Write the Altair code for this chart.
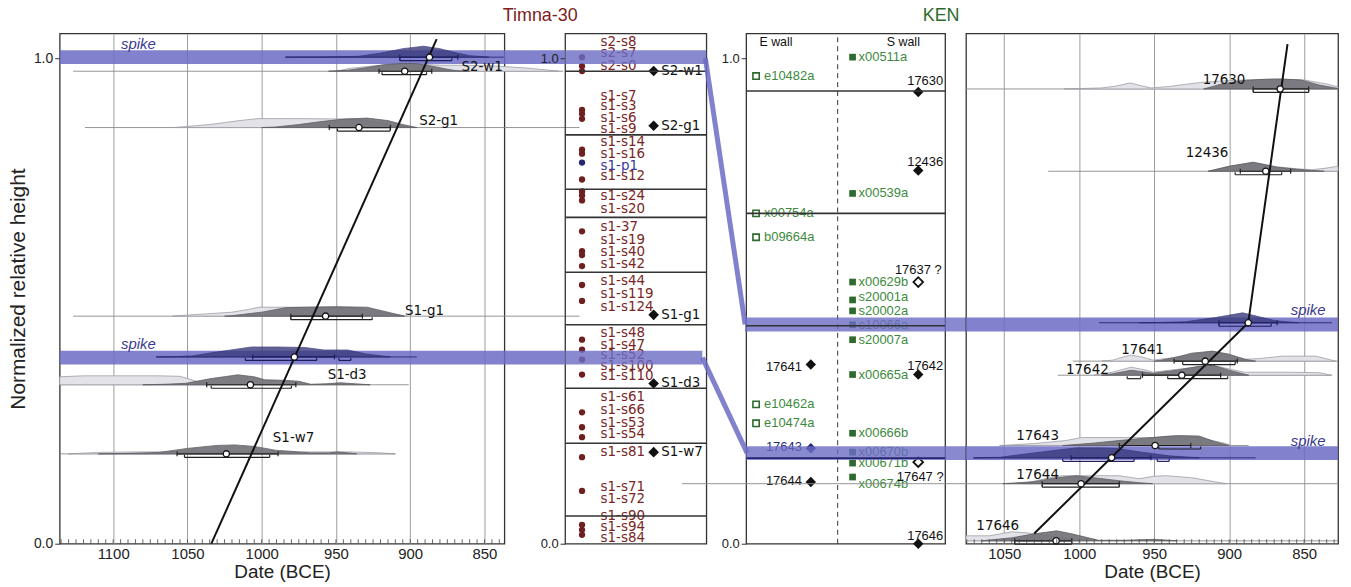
import altair as alt
import pandas as pd

# ---------------- layout / style constants ----------------
PX = 488.0            # pixels per unit of normalized height
H = 513
YMAX = 1.051
DUNIT = 10 / PX       # density unit (1.0 ~ 10 px tall)
OFF = 3.5 / PX
TK = 2.5 / PX
MINOR = 4.5 / PX

BAND = "#6b6bc4"
NAVY = "#262670"
LIGHT_FILL = "#e2e2e8"
DARK_FILL = "#727278"
SPIKE_FILL = "#3a3a7c"
BROWN = "#7a2626"
GREEN = "#3d8a3d"
DKGREEN = "#2d6a2d"

# ================= Timna-30 dates (panel 1) =================
T_DOMAIN = [836.6, 1136]
T_GRID = [1100, 1050, 1000, 950, 900, 850]
T_MINOR = list(range(840, 1136, 5))

T_ROWS = ["spike1", "S2-w1", "S2-g1", "S1-g1", "spike2", "S1-d3", "S1-w7"]
T_ROW_Y = [1.002, 0.973, 0.857, 0.4686, 0.3846, 0.3273, 0.185]
T_KIND = ["spike", "gray", "gray", "gray", "spike", "gray", "gray"]
T_BASE_FROM = [984, 1127, 1119, 1127, 1071, 1136, 1136]
T_BASE_TO = [837, 797, 786, 786, 895.5, 901, 910]
T_MEDIAN = [887, 903.7, 934.5, 957, 978, 1007.6, 1023.8]
T_A_FROM = [907, 921, 954.5, 980.4, 1006, 1037, 1057]
T_A_TO = [868, 885.5, 913.3, 932.2, 951, 977, 989]
T_B_FROM = [907, 919, 949, 980.4, 1011, 1034, 1052]
T_B_TO = [872, 889, 913.5, 925.6, 963, 980, 994.6]
T_C_ROW = [4]
T_C_FROM = [948]
T_C_TO = [940]

T_SPIKE1_DARK_X = [984, 960, 935, 920, 905, 891, 880, 868, 860, 847]
T_SPIKE1_DARK_H = [0, 0.02, 0.08, 0.4, 0.85, 1.1, 0.85, 0.4, 0.15, 0]
T_S2W1_LIGHT_X = [950, 940, 920, 904, 893, 880, 860, 840, 820, 800]
T_S2W1_LIGHT_H = [0, 0.3, 0.6, 0.75, 0.7, 0.6, 0.6, 0.5, 0.3, 0]
T_S2W1_DARK_X = [955, 942, 930, 918, 904, 895, 885, 875, 869, 860]
T_S2W1_DARK_H = [0, 0.1, 0.35, 0.65, 0.8, 0.75, 0.5, 0.2, 0.05, 0]
T_S2G1_LIGHT_X = [1060, 1051, 1035, 1015, 1002, 980, 960, 940, 925, 910, 900]
T_S2G1_LIGHT_H = [0, 0.1, 0.3, 0.7, 0.9, 0.9, 0.88, 0.85, 0.6, 0.2, 0]
T_S2G1_DARK_X = [1000, 991, 975, 960, 945, 929, 915, 905, 895.5]
T_S2G1_DARK_H = [0, 0.05, 0.3, 0.6, 0.85, 0.95, 0.7, 0.3, 0]
T_S1G1_LIGHT_X = [1060, 1051, 1035, 1020, 1008, 1002, 980, 960, 940, 920, 902]
T_S1G1_LIGHT_H = [0, 0.1, 0.25, 0.4, 0.7, 0.9, 0.9, 0.9, 0.88, 0.4, 0]
T_S1G1_DARK_X = [1025, 1020, 1000, 984, 970, 950, 929, 915, 904]
T_S1G1_DARK_H = [0, 0.05, 0.4, 0.85, 0.9, 0.95, 0.9, 0.4, 0]
T_SPIKE2_DARK_X = [1071, 1060, 1047, 1030, 1007, 990, 971, 958, 942, 930, 913.5]
T_SPIKE2_DARK_H = [0, 0.02, 0.1, 0.5, 1.0, 1.0, 0.95, 0.7, 0.7, 0.3, 0]
T_S1D3_LIGHT_X = [1136, 1120, 1100, 1070, 1055, 1045, 1036]
T_S1D3_LIGHT_H = [0.8, 0.9, 0.9, 0.9, 0.85, 0.4, 0]
T_S1D3_DARK_X = [1080, 1065, 1051, 1035, 1016, 1005, 998, 985, 975, 967, 957, 947, 937, 927]
T_S1D3_DARK_H = [0, 0.05, 0.15, 0.6, 1.0, 0.8, 0.5, 0.45, 0.35, 0.05, 0.1, 0.2, 0.1, 0]
T_S1W7_LIGHT_X = [1130, 1110, 1080, 1050, 1000, 960, 940, 920, 910]
T_S1W7_LIGHT_H = [0, 0.15, 0.2, 0.2, 0.2, 0.2, 0.2, 0.1, 0]
T_S1W7_DARK_X = [1110, 1090, 1069, 1050, 1030, 1018, 1005, 990, 984, 967, 955, 949, 942, 936]
T_S1W7_DARK_H = [0, 0.05, 0.15, 0.55, 0.85, 0.9, 0.75, 0.35, 0.3, 0.1, 0.1, 0.2, 0.1, 0]

T_FIT_X = [882.2, 1033.9]
T_FIT_Y = [1.039, 0.0]
T_LABELS = ["S2-w1", "S2-g1", "S1-g1", "S1-d3", "S1-w7"]
T_LABEL_X = [865.5, 894, 903.5, 955.6, 992.5]
T_LABEL_Y = [0.9816, 0.871, 0.4795, 0.348, 0.217]
T_SPIKE_LX = [1094.7, 1094.7]
T_SPIKE_LY = [1.029, 0.412]
T_BAND_Y = [1.002, 0.3832]
T_BAND_FROM = [1136, 1136]
T_BAND_TO = [796, 796]

# ================= Timna-30 samples (panel 2) =================
T_SAMPLES = ["s2-s8", "s2-s7", "s2-s0", "s1-s7", "s1-s3", "s1-s6", "s1-s9", "s1-s14", "s1-s16",
             "s1-p1", "s1-s12", "s1-s24", "s1-s20", "s1-37", "s1-s19", "s1-s40", "s1-s42", "s1-s44",
             "s1-s119", "s1-s124", "s1-s48", "s1-s47", "s1-s52", "s1-s100", "s1-s110", "s1-s61",
             "s1-s66", "s1-s53", "s1-s54", "s1-s81", "s1-s71", "s1-s72", "s1-s90", "s1-s94", "s1-s84"]
T_SAMPLE_Y = [1.0328, 1.0102, 0.9836, 0.9221, 0.9016, 0.8770, 0.8545, 0.8279, 0.8033,
              0.7787, 0.7582, 0.7152, 0.6885, 0.6516, 0.6250, 0.6004, 0.5758, 0.5410,
              0.5143, 0.4877, 0.4344, 0.4098, 0.3893, 0.3668, 0.3443, 0.3012,
              0.2746, 0.2480, 0.2254, 0.1885, 0.1168, 0.0922, 0.0574, 0.0348, 0.0123]
T_DOT_Y = [1.002, 0.9836, 0.9734, 0.8934, 0.8852, 0.875, 0.8115, 0.8033, 0.7848, 0.75,
           0.7254, 0.7172, 0.7070, 0.6434, 0.6025, 0.5943, 0.5717, 0.5328, 0.5, 0.4201,
           0.3996, 0.3791, 0.3484, 0.2705, 0.2398, 0.2193, 0.1783, 0.1086, 0.0389, 0.0287, 0.0184]
T_DOT_BLUE = [0.7848]
T_SECTIONS = [0.973, 0.842, 0.730, 0.672, 0.559, 0.451, 0.320, 0.207, 0.057]
T_PHASES = ["S2-w1", "S2-g1", "S1-g1", "S1-d3", "S1-w7"]
T_PHASE_Y = [0.9734, 0.8607, 0.4713, 0.3299, 0.1885]
T2_BAND_Y = [1.002, 0.3832]
T2_BAND_TO = [1.0, 0.972]

# ================= KEN samples (panel 3) =================
K_E_NAMES = ["e10482a", "x00754a", "b09664a", "e10462a", "e10474a"]
K_E_Y = [0.9631, 0.6803, 0.6311, 0.2869, 0.2480]
K_S_NAMES = ["x00511a", "x00539a", "x00629b", "s20001a", "s20002a", "c10066a", "s20007a",
             "x00665a", "x00666b", "x00670b", "x00671b", "x00674b"]
K_S_Y = [1.002, 0.7213, 0.5389, 0.502, 0.4795, 0.4508, 0.4201, 0.3484, 0.2275, 0.1885, 0.166, 0.1373]
K_S_LABEL_Y = [1.002, 0.7213, 0.5389, 0.508, 0.4795, 0.4508, 0.4201, 0.3484, 0.2275, 0.1885, 0.166, 0.123]
K_SD_NAMES = ["17630", "12436", "17637 ?", "17642", "17647 ?", "17646"]
K_SD_Y = [0.9303, 0.7684, 0.5389, 0.3484, 0.168, 0.0]
K_SD_OPEN = [False, False, True, False, True, False]
K_SD_LX = [0.9, 0.9, 0.865, 0.9, 0.875, 0.9]
K_SD_LY = [0.9529, 0.7869, 0.5635, 0.3668, 0.1373, 0.0164]
K_ED_NAMES = ["17641", "17643", "17644"]
K_ED_Y = [0.3689, 0.1967, 0.127]
K_ED_LY = [0.3648, 0.1988, 0.1291]
K_SECTIONS = [0.9324, 0.6803, 0.4488]
K_NAVY_LINE = [0.1762]
K3_BAND_Y = [0.4515, 0.1865]
K3_BAND_FROM = [-0.005, 0.0]
K3_BAND_TO = [1.105, 1.105]
CONN_X = [-0.205, -0.22]
CONN_Y = [1.0, 0.3832]
CONN_X2 = [-0.005, 0.005]
CONN_Y2 = [0.4515, 0.1865]

# ================= KEN dates (panel 4) =================
K_DOMAIN = [827.4, 1075.5]
K_GRID = [1050, 1000, 950, 900, 850]
K_MINOR = list(range(830, 1076, 5))
K_ROWS = ["17630", "12436", "spike3", "17641", "17642", "17643", "spike4", "17644", "17646"]
K_ROW_Y = [0.9365, 0.767, 0.455, 0.376, 0.347, 0.2022, 0.1768, 0.1236, 0.006]
K_KIND = ["gray", "gray", "spike", "gray", "gray", "gray", "spike", "gray", "gray"]
K_BASE_FROM = [1075.5, 1020.7, 986.8, 1004.3, 1014.3, 1053, 1070.8, 1265, 1075.5]
K_BASE_TO = [827.4, 827.4, 831.4, 827.4, 831.4, 887, 882.4, 827.4, 827.4]
K_MEDIAN = [866, 875.6, 887.3, 916, 931.6, 949.4, 978.4, 998.8, 1015.4]
K_A_FROM = [884, 892.6, 906.8, 936.7, 957.8, 973.3, 1005.4, 1024.7, 1043]
K_A_TO = [847, 859, 868, 894.6, 905.7, 925.6, 952.2, 973.3, 1005]
K_B_FROM = [884, 896, 906.8, 931, 941, 947, 1011, 1024.7, 1043]
K_B_TO = [847, 865, 872, 896, 901, 919, 963.4, 973.3, 1005]
K_C_ROW = [4, 6]
K_C_FROM = [968, 948]
K_C_TO = [959, 940]

K_17630_LIGHT_X = [1010, 985, 975, 966, 958, 952, 940, 930, 919, 905, 890, 870, 850, 835, 827.4]
K_17630_LIGHT_H = [0, 0.1, 0.3, 0.6, 0.3, 0.1, 0.25, 0.45, 0.65, 0.8, 0.9, 1.0, 0.9, 0.5, 0.2]
K_17630_DARK_X = [917, 905, 890, 879, 865, 852, 840, 827.4]
K_17630_DARK_H = [0, 0.5, 0.85, 0.95, 1.0, 0.9, 0.4, 0.05]
K_12436_LIGHT_X = [914, 900, 884, 868, 855, 845, 836, 830, 827.4]
K_12436_LIGHT_H = [0, 0.5, 0.9, 0.45, 0.25, 0.15, 0.3, 0.45, 0.5]
K_12436_DARK_X = [914, 900, 884, 868, 854.5, 845, 836.7]
K_12436_DARK_H = [0, 0.5, 0.9, 0.4, 0.2, 0.08, 0]
K_SPIKE3_DARK_X = [960, 945, 929, 910, 891, 880, 869, 860, 853.8]
K_SPIKE3_DARK_H = [0, 0.03, 0.1, 0.5, 1.0, 0.6, 0.2, 0.08, 0]
K_17641_LIGHT_X = [985, 977.7, 970, 965.5, 958, 951, 940, 911, 889, 880, 864.7, 842.5, 829]
K_17641_LIGHT_H = [0, 0.1, 0.45, 0.6, 0.4, 0.1, 0.3, 1.0, 0.2, 0.25, 0.5, 0.5, 0]
K_17641_DARK_X = [950, 946.9, 935, 925, 911.2, 900, 890, 882.4]
K_17641_DARK_H = [0, 0.05, 0.4, 0.8, 1.0, 0.7, 0.2, 0]
K_17642_LIGHT_X = [990, 978, 965.5, 955, 951, 940, 911, 890, 880, 860, 840, 832]
K_17642_LIGHT_H = [0, 0.3, 0.8, 0.5, 0.3, 0.5, 1.0, 0.3, 0.3, 0.3, 0.25, 0]
K_17642_DARK_X = [985, 977.7, 965.5, 955, 951, 935, 920, 911, 900, 887]
K_17642_DARK_H = [0, 0.15, 0.5, 0.3, 0.2, 0.5, 0.9, 1.0, 0.5, 0]
K_17643_LIGHT_X = [1053, 1030, 1009, 998, 975, 951, 935, 920, 905, 898]
K_17643_LIGHT_H = [0, 0.2, 0.5, 0.8, 0.8, 0.8, 0.9, 0.8, 0.3, 0]
K_17643_DARK_X = [1011, 990, 973.5, 955, 940, 933.6, 920, 910, 900]
K_17643_DARK_H = [0, 0.25, 0.5, 0.75, 0.95, 1.0, 0.95, 0.4, 0]
K_SPIKE4_DARK_X = [1070, 1053, 1030, 1002, 985, 975.5, 960, 940, 920]
K_SPIKE4_DARK_H = [0, 0.05, 0.5, 1.0, 1.0, 0.95, 0.6, 0.2, 0]
K_17644_LIGHT_X = [1037.6, 1020, 1011, 990, 973.5, 960, 950, 942, 925, 910, 902]
K_17644_LIGHT_H = [0, 0.6, 0.8, 0.8, 0.8, 0.5, 0.75, 0.8, 0.6, 0.2, 0]
K_17644_DARK_X = [1051, 1030, 1015, 1002, 990, 973.5, 960, 951]
K_17644_DARK_H = [0, 0.2, 0.6, 0.8, 0.6, 0.3, 0.1, 0]
K_17646_LIGHT_X = [1075.5, 1060, 1045, 1035, 1020, 1000]
K_17646_LIGHT_H = [0.5, 0.5, 0.9, 0.8, 0.5, 0]
K_17646_DARK_X = [1065, 1045, 1030, 1015, 1005, 987, 970, 950, 935]
K_17646_DARK_H = [0, 0.3, 0.7, 1.0, 0.7, 0.05, 0.05, 0.15, 0]

K_FIT_X = [861.1, 887.3, 1030]
K_FIT_Y = [1.0287, 0.4549, 0.021]
K_LABELS = ["17630", "12436", "17641", "17642", "17643", "17644", "17646"]
K_LABEL_X = [917.7, 929, 972, 1008.8, 1042, 1042, 1068.6]
K_LABEL_Y = [0.955, 0.8043, 0.3986, 0.3586, 0.2213, 0.1414, 0.0369]
K_SPIKE_LX = [859, 859]
K_SPIKE_LY = [0.4805, 0.211]
K_BAND_Y = [0.4515, 0.1865]
K_BAND_FROM = [1075.5, 1075.5]
K_BAND_TO = [827.4, 827.4]


# ---------------- helpers ----------------
def dens_df(entries):
    frames = []
    for name, y0, xs, hs in entries:
        frames.append(pd.DataFrame({"row": name, "x": xs,
                                    "top": [y0 + h * DUNIT for h in hs], "base": y0}))
    return pd.concat(frames, ignore_index=True)


YS = alt.Scale(domain=[0, YMAX], nice=False, zero=False)
US = alt.Scale(domain=[0, 1], nice=False, zero=False)


def date_panel(width, dom, grid, minor, yaxis, row_y, kind, base_from, base_to, med,
               a_from, a_to, b_from, b_to, c_row, c_from, c_to, light, dark, spike,
               fit_x, fit_y, lab_t, lab_x, lab_y, sp_x, sp_y, band_y, band_from, band_to):
    xs = alt.Scale(domain=dom, reverse=True, nice=False, zero=False)
    xax = alt.Axis(values=grid, format="d", grid=True, gridColor="#9c9c9c", gridWidth=1,
                   ticks=False, domain=False, labelFontSize=15, labelPadding=3,
                   title="Date (BCE)", titleFontSize=19, titlePadding=1,
                   titleFontWeight="normal")

    def X(f):
        return alt.X(f + ":Q", scale=xs, axis=xax)

    def Y(f):
        return alt.Y(f + ":Q", scale=YS, axis=yaxis)

    layers = []
    bands = pd.DataFrame({"x": band_from, "x2": band_to, "y": band_y})
    layers.append(alt.Chart(bands).mark_rule(strokeWidth=14, color=BAND, opacity=0.85,
                                             strokeCap="butt")
                  .encode(x=X("x"), x2="x2:Q", y=Y("y")))
    basec = ["#8a8a8a" if k == "gray" else NAVY for k in kind]
    base = pd.DataFrame({"x": base_from, "x2": base_to, "y": row_y, "c": basec})
    layers.append(alt.Chart(base).mark_rule(strokeWidth=0.9)
                  .encode(x=X("x"), x2="x2:Q", y=Y("y"), color=alt.Color("c:N", scale=None)))
    layers.append(alt.Chart(light).mark_area(fill=LIGHT_FILL, stroke="#9d9da5", strokeWidth=0.8,
                                             opacity=1)
                  .encode(x=X("x"), y=Y("top"), y2="base:Q", detail="row:N"))
    layers.append(alt.Chart(dark).mark_area(fill=DARK_FILL, stroke="#55555b", strokeWidth=0.8,
                                            opacity=0.92)
                  .encode(x=X("x"), y=Y("top"), y2="base:Q", detail="row:N"))
    layers.append(alt.Chart(spike).mark_area(fill=SPIKE_FILL, stroke=NAVY, strokeWidth=0.8,
                                             opacity=0.8)
                  .encode(x=X("x"), y=Y("top"), y2="base:Q", detail="row:N"))
    hr, vr = [], []
    for i, y0 in enumerate(row_y):
        c = "#222222" if kind[i] == "gray" else "#1c1c60"
        hr.append((a_from[i], a_to[i], y0, c))
        hr.append((b_from[i], b_to[i], y0 - OFF, c))
        for xv in (a_from[i], a_to[i]):
            vr.append((xv, y0 - TK, y0 + TK, c))
        for xv in (b_from[i], b_to[i]):
            vr.append((xv, y0 - OFF, y0 - OFF + TK, c))
    for r, f, t in zip(c_row, c_from, c_to):
        y0 = row_y[r] - OFF
        c = "#222222" if kind[r] == "gray" else "#1c1c60"
        hr.append((f, t, y0, c))
        vr.append((f, y0, y0 + TK, c))
        vr.append((t, y0, y0 + TK, c))
    hdf = pd.DataFrame(hr, columns=["x", "x2", "y", "c"])
    vdf = pd.DataFrame(vr, columns=["x", "y", "y2", "c"])
    layers.append(alt.Chart(hdf).mark_rule(strokeWidth=1.2)
                  .encode(x=X("x"), x2="x2:Q", y=Y("y"), color=alt.Color("c:N", scale=None)))
    layers.append(alt.Chart(vdf).mark_rule(strokeWidth=1.2)
                  .encode(x=X("x"), y=Y("y"), y2="y2:Q", color=alt.Color("c:N", scale=None)))
    fit = pd.DataFrame({"x": fit_x, "y": fit_y, "o": list(range(len(fit_x)))})
    layers.append(alt.Chart(fit).mark_line(color="#111111", strokeWidth=2)
                  .encode(x=X("x"), y=Y("y"), order="o:Q"))
    meds = pd.DataFrame({"x": med, "y": row_y})
    layers.append(alt.Chart(meds).mark_circle(size=40, color="white", stroke="#111111",
                                              strokeWidth=1.3, opacity=1)
                  .encode(x=X("x"), y=Y("y")))
    labs = pd.DataFrame({"x": lab_x, "y": lab_y, "t": lab_t})
    layers.append(alt.Chart(labs).mark_text(align="left", baseline="middle", font="DejaVu Sans",
                                            fontSize=13.5, color="#111111")
                  .encode(x=X("x"), y=Y("y"), text="t:N"))
    sps = pd.DataFrame({"x": sp_x, "y": sp_y, "t": ["spike"] * len(sp_x)})
    layers.append(alt.Chart(sps).mark_text(align="left", baseline="middle", font="Liberation Sans",
                                           fontSize=15, fontStyle="italic", color="#3a3a90")
                  .encode(x=X("x"), y=Y("y"), text="t:N"))
    mt = pd.DataFrame({"x": minor, "y": 0.0, "y2": MINOR})
    layers.append(alt.Chart(mt).mark_rule(color="#444444", strokeWidth=0.8)
                  .encode(x=X("x"), y=Y("y"), y2="y2:Q"))
    return alt.layer(*layers).properties(width=width, height=H)


# ---------------- panel 1 ----------------
t_light = dens_df([
    ("S2-w1", T_ROW_Y[1], T_S2W1_LIGHT_X, T_S2W1_LIGHT_H),
    ("S2-g1", T_ROW_Y[2], T_S2G1_LIGHT_X, T_S2G1_LIGHT_H),
    ("S1-g1", T_ROW_Y[3], T_S1G1_LIGHT_X, T_S1G1_LIGHT_H),
    ("S1-d3", T_ROW_Y[5], T_S1D3_LIGHT_X, T_S1D3_LIGHT_H),
    ("S1-w7", T_ROW_Y[6], T_S1W7_LIGHT_X, T_S1W7_LIGHT_H),
])
t_dark = dens_df([
    ("S2-w1", T_ROW_Y[1], T_S2W1_DARK_X, T_S2W1_DARK_H),
    ("S2-g1", T_ROW_Y[2], T_S2G1_DARK_X, T_S2G1_DARK_H),
    ("S1-g1", T_ROW_Y[3], T_S1G1_DARK_X, T_S1G1_DARK_H),
    ("S1-d3", T_ROW_Y[5], T_S1D3_DARK_X, T_S1D3_DARK_H),
    ("S1-w7", T_ROW_Y[6], T_S1W7_DARK_X, T_S1W7_DARK_H),
])
t_spike = dens_df([
    ("spike1", T_ROW_Y[0], T_SPIKE1_DARK_X, T_SPIKE1_DARK_H),
    ("spike2", T_ROW_Y[4], T_SPIKE2_DARK_X, T_SPIKE2_DARK_H),
])
y_axis_main = alt.Axis(values=[0, 1], format=".1f", title="Normalized relative height",
                       titleFontSize=21, titleFontWeight="normal", titlePadding=5, grid=False,
                       tickSize=5, labelFontSize=14, labelPadding=2, domain=False,
                       tickColor="#333333")
p1 = date_panel(447, T_DOMAIN, T_GRID, T_MINOR, y_axis_main, T_ROW_Y, T_KIND, T_BASE_FROM,
                T_BASE_TO, T_MEDIAN, T_A_FROM, T_A_TO, T_B_FROM, T_B_TO, T_C_ROW, T_C_FROM,
                T_C_TO, t_light, t_dark, t_spike, T_FIT_X, T_FIT_Y, T_LABELS, T_LABEL_X,
                T_LABEL_Y, T_SPIKE_LX, T_SPIKE_LY, T_BAND_Y, T_BAND_FROM, T_BAND_TO)

# ---------------- panel 4 ----------------
k_light = dens_df([
    ("17630", K_ROW_Y[0], K_17630_LIGHT_X, K_17630_LIGHT_H),
    ("12436", K_ROW_Y[1], K_12436_LIGHT_X, K_12436_LIGHT_H),
    ("17641", K_ROW_Y[3], K_17641_LIGHT_X, K_17641_LIGHT_H),
    ("17642", K_ROW_Y[4], K_17642_LIGHT_X, K_17642_LIGHT_H),
    ("17643", K_ROW_Y[5], K_17643_LIGHT_X, K_17643_LIGHT_H),
    ("17644", K_ROW_Y[7], K_17644_LIGHT_X, K_17644_LIGHT_H),
    ("17646", K_ROW_Y[8], K_17646_LIGHT_X, K_17646_LIGHT_H),
])
k_dark = dens_df([
    ("17630", K_ROW_Y[0], K_17630_DARK_X, K_17630_DARK_H),
    ("12436", K_ROW_Y[1], K_12436_DARK_X, K_12436_DARK_H),
    ("17641", K_ROW_Y[3], K_17641_DARK_X, K_17641_DARK_H),
    ("17642", K_ROW_Y[4], K_17642_DARK_X, K_17642_DARK_H),
    ("17643", K_ROW_Y[5], K_17643_DARK_X, K_17643_DARK_H),
    ("17644", K_ROW_Y[7], K_17644_DARK_X, K_17644_DARK_H),
    ("17646", K_ROW_Y[8], K_17646_DARK_X, K_17646_DARK_H),
])
k_spike = dens_df([
    ("spike3", K_ROW_Y[2], K_SPIKE3_DARK_X, K_SPIKE3_DARK_H),
    ("spike4", K_ROW_Y[6], K_SPIKE4_DARK_X, K_SPIKE4_DARK_H),
])
p4 = date_panel(374, K_DOMAIN, K_GRID, K_MINOR, None, K_ROW_Y, K_KIND, K_BASE_FROM,
                K_BASE_TO, K_MEDIAN, K_A_FROM, K_A_TO, K_B_FROM, K_B_TO, K_C_ROW, K_C_FROM,
                K_C_TO, k_light, k_dark, k_spike, K_FIT_X, K_FIT_Y, K_LABELS, K_LABEL_X,
                K_LABEL_Y, K_SPIKE_LX, K_SPIKE_LY, K_BAND_Y, K_BAND_FROM, K_BAND_TO)

# ---------------- shared for column panels ----------------
y_axis_small = alt.Axis(values=[0, 1], format=".1f", title=None, grid=False, tickSize=5,
                        labelFontSize=13, labelPadding=2, domain=False, tickColor="#333333")


def UX(f):
    return alt.X(f + ":Q", scale=US, axis=None)


def UY(f):
    return alt.Y(f + ":Q", scale=YS, axis=y_axis_small)


# ---------------- panel 2 ----------------
dots = pd.DataFrame({"x": 0.12, "y": T_DOT_Y,
                     "c": [NAVY if v in T_DOT_BLUE else "#6e2020" for v in T_DOT_Y]})
samp = pd.DataFrame({"x": 0.2514, "y": T_SAMPLE_Y, "t": T_SAMPLES,
                     "c": ["#3a3aa0" if s == "s1-p1" else BROWN for s in T_SAMPLES]})
phase = pd.DataFrame({"x": 0.627, "lx": 0.681, "y": T_PHASE_Y, "t": T_PHASES})
b2 = pd.DataFrame({"x": 0.0, "x2": T2_BAND_TO, "y": T2_BAND_Y})
s2 = pd.DataFrame({"x": 0.0, "x2": 1.0, "y": T_SECTIONS})
title2 = pd.DataFrame({"x": [-0.176], "y": [1.087], "t": ["Timna-30"]})

p2 = alt.layer(
    alt.Chart(dots).mark_circle(size=40, opacity=1)
    .encode(x=UX("x"), y=UY("y"), color=alt.Color("c:N", scale=None)),
    alt.Chart(samp).mark_text(align="left", baseline="middle", font="DejaVu Sans", fontSize=13.5)
    .encode(x=UX("x"), y=UY("y"), text="t:N", color=alt.Color("c:N", scale=None)),
    alt.Chart(phase).mark_point(shape="diamond", filled=True, size=115, color="#111111", opacity=1)
    .encode(x=UX("x"), y=UY("y")),
    alt.Chart(phase).mark_text(align="left", baseline="middle", font="DejaVu Sans", fontSize=13.5,
                               color="#111111")
    .encode(x=UX("lx"), y=UY("y"), text="t:N"),
    alt.Chart(b2).mark_rule(strokeWidth=14, color=BAND, opacity=0.8, strokeCap="butt")
    .encode(x=UX("x"), x2="x2:Q", y=UY("y")),
    alt.Chart(s2).mark_rule(strokeWidth=1.6, color="#333333")
    .encode(x=UX("x"), x2="x2:Q", y=UY("y")),
    alt.Chart(title2).mark_text(align="center", baseline="middle", font="Liberation Sans",
                                fontSize=18, color="#7b2020")
    .encode(x=UX("x"), y=UY("y"), text="t:N"),
).properties(width=142, height=H)

# ---------------- panel 3 ----------------
dash = pd.DataFrame({"x": [0.46], "y": [0.0], "y2": [YMAX]})
heads = pd.DataFrame({"x": [0.15, 0.79], "y": [1.0328, 1.0328], "t": ["E wall", "S wall"]})
esq = pd.DataFrame({"x": 0.05, "lx": 0.09, "y": K_E_Y, "t": K_E_NAMES})
ssq = pd.DataFrame({"x": 0.535, "lx": 0.565, "y": K_S_Y, "ly": K_S_LABEL_Y, "t": K_S_NAMES})
sd = pd.DataFrame({"x": 0.865, "y": K_SD_Y, "open": K_SD_OPEN, "lx": K_SD_LX, "ly": K_SD_LY,
                   "t": K_SD_NAMES})
sd_fill = sd[~sd["open"]]
sd_open = sd[sd["open"]]
ed = pd.DataFrame({"x": 0.325, "lx": 0.28, "y": K_ED_Y, "ly": K_ED_LY, "t": K_ED_NAMES,
                   "c": ["#111111", NAVY, "#111111"]})
b3 = pd.DataFrame({"x": K3_BAND_FROM, "x2": K3_BAND_TO, "y": K3_BAND_Y})
conn = pd.DataFrame({"x": CONN_X, "x2": CONN_X2, "y": CONN_Y, "y2": CONN_Y2})
s3 = pd.DataFrame({"x": 0.0, "x2": 1.0, "y": K_SECTIONS})
nv3 = pd.DataFrame({"x": 0.0, "x2": 1.0, "y": K_NAVY_LINE})
title3 = pd.DataFrame({"x": [0.98], "y": [1.087], "t": ["KEN"]})

p3 = alt.layer(
    alt.Chart(dash).mark_rule(strokeDash=[5, 4], color="#333333", strokeWidth=1)
    .encode(x=UX("x"), y=UY("y"), y2="y2:Q"),
    alt.Chart(heads).mark_text(align="center", baseline="middle", font="Liberation Sans",
                               fontSize=12.5, color="#111111")
    .encode(x=UX("x"), y=UY("y"), text="t:N"),
    alt.Chart(esq).mark_point(shape="square", filled=True, fill="white", stroke=DKGREEN,
                              strokeWidth=1.6, size=40, opacity=1)
    .encode(x=UX("x"), y=UY("y")),
    alt.Chart(esq).mark_text(align="left", baseline="middle", font="Liberation Sans",
                             fontSize=13, color=GREEN)
    .encode(x=UX("lx"), y=UY("y"), text="t:N"),
    alt.Chart(ssq).mark_square(size=45, color=DKGREEN, opacity=1)
    .encode(x=UX("x"), y=UY("y")),
    alt.Chart(ssq).mark_text(align="left", baseline="middle", font="Liberation Sans",
                             fontSize=13, color=GREEN)
    .encode(x=UX("lx"), y=UY("ly"), text="t:N"),
    alt.Chart(sd_fill).mark_point(shape="diamond", filled=True, size=110, color="#111111",
                                  opacity=1)
    .encode(x=UX("x"), y=UY("y")),
    alt.Chart(sd_open).mark_point(shape="diamond", filled=True, fill="white", stroke="#111111",
                                  strokeWidth=1.8, size=95, opacity=1)
    .encode(x=UX("x"), y=UY("y")),
    alt.Chart(sd).mark_text(align="center", baseline="middle", font="Liberation Sans",
                            fontSize=13, color="#111111")
    .encode(x=UX("lx"), y=UY("ly"), text="t:N"),
    alt.Chart(ed).mark_point(shape="diamond", filled=True, size=110, opacity=1)
    .encode(x=UX("x"), y=UY("y"), color=alt.Color("c:N", scale=None)),
    alt.Chart(ed).mark_text(align="right", baseline="middle", font="Liberation Sans",
                            fontSize=13)
    .encode(x=UX("lx"), y=UY("ly"), text="t:N", color=alt.Color("c:N", scale=None)),
    alt.Chart(b3).mark_rule(strokeWidth=14, color=BAND, opacity=0.8, strokeCap="butt")
    .encode(x=UX("x"), x2="x2:Q", y=UY("y")),
    alt.Chart(conn).mark_rule(strokeWidth=5, color=BAND, opacity=0.85)
    .encode(x=UX("x"), x2="x2:Q", y=UY("y"), y2="y2:Q"),
    alt.Chart(s3).mark_rule(strokeWidth=1.6, color="#333333")
    .encode(x=UX("x"), x2="x2:Q", y=UY("y")),
    alt.Chart(nv3).mark_rule(strokeWidth=1.6, color=NAVY)
    .encode(x=UX("x"), x2="x2:Q", y=UY("y")),
    alt.Chart(title3).mark_text(align="center", baseline="middle", font="Liberation Sans",
                                fontSize=18, color="#2d6a2d")
    .encode(x=UX("x"), y=UY("y"), text="t:N"),
).properties(width=200, height=H)


def spacer(w):
    return alt.Chart(pd.DataFrame({"v": [0]})).mark_point(opacity=0).encode(
        x=alt.X("v:Q", axis=None), y=alt.Y("v:Q", axis=None)
    ).properties(width=w, height=H, view=alt.ViewBackground(stroke="transparent"))


chart = alt.hconcat(p1, spacer(61), p2, spacer(40), p3, spacer(21), p4,
                    spacing=0, bounds="flush").properties(
    padding={"left": 6, "top": 4, "right": 5, "bottom": 5}
).configure_view(stroke="#333333", strokeWidth=1.3).configure_axis(
    labelFont="Liberation Sans", titleFont="Liberation Sans", labelColor="#222222",
    titleColor="#222222"
)

chart.save("out.html", embed_options={"renderer": "svg", "actions": False})
